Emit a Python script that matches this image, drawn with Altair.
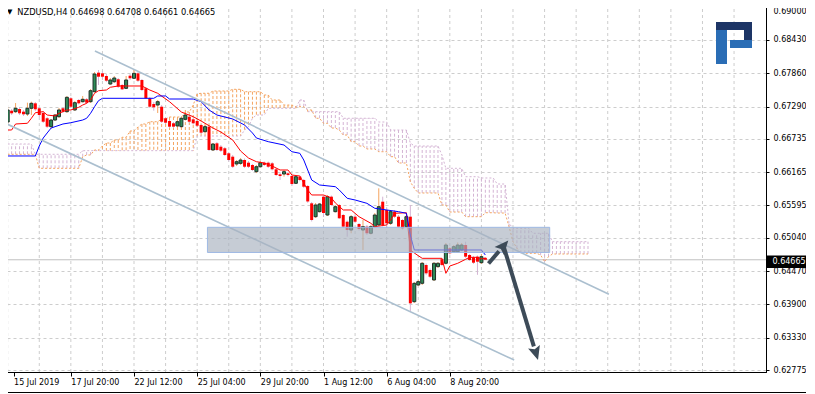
import math
import altair as alt
import pandas as pd

# ---------------- text ----------------
symbol_label = "NZDUSD,H4"
ohlc_label = ["0.64698", "0.64708", "0.64661", "0.64665"]
x_tick_labels = ["15 Jul 2019", "17 Jul 20:00", "22 Jul 12:00", "25 Jul 04:00",
                 "29 Jul 20:00", "1 Aug 12:00", "6 Aug 04:00", "8 Aug 20:00"]
x_tick_bars = [0, 16, 32, 48, 64, 80, 96, 112]
grid_bars = [0, 8, 16, 24, 32, 40, 48, 56, 64, 72, 80, 88, 96, 104, 112, 120,
             128, 136, 144, 152, 160, 168, 176, 184]
y_tick_prices = [0.69000, 0.68430, 0.67860, 0.67290, 0.66735, 0.66165,
                 0.65595, 0.65040, 0.64470, 0.63900, 0.63330, 0.62775]
last_price = 0.64665
last_price_label = "0.64665"

# ---------------- candles (H4 bars) ----------------
opens = [
 0.67025, 0.67219, 0.67202, 0.67248, 0.67202, 0.67162, 0.67260, 0.67345, 0.67260, 0.67179,
 0.67089, 0.66945, 0.67059, 0.67116, 0.67260, 0.67202, 0.67431, 0.67231, 0.67402, 0.67373,
 0.67414, 0.67373, 0.67544, 0.67870, 0.67859, 0.67813, 0.67676, 0.67715, 0.67757, 0.67659,
 0.67602, 0.67818, 0.67774, 0.67859, 0.67745, 0.67602, 0.67431, 0.67333, 0.67316, 0.67287,
 0.67089, 0.67042, 0.67003, 0.66957, 0.66945, 0.67071, 0.67116, 0.67071, 0.67042, 0.66974,
 0.66859, 0.66945, 0.66546, 0.66660, 0.66602, 0.66575, 0.66489, 0.66431, 0.66306, 0.66317,
 0.66374, 0.66328, 0.66289, 0.66174, 0.66259, 0.66328, 0.66328, 0.66317, 0.66215, 0.66129,
 0.66134, 0.66146, 0.66100, 0.65975, 0.66088, 0.66032, 0.65929, 0.65632, 0.65403, 0.65489,
 0.65746, 0.65432, 0.65746, 0.65489, 0.65603, 0.65432, 0.65317, 0.65175, 0.65403, 0.65278,
 0.65175, 0.65232, 0.65119, 0.65232, 0.65261, 0.65660, 0.65518, 0.65290, 0.65489, 0.65403,
 0.65346, 0.65232, 0.65403, 0.63947, 0.64233, 0.64262, 0.64576, 0.64490, 0.64319, 0.64547,
 0.64673, 0.64605, 0.64862, 0.64803, 0.64803, 0.64833, 0.64918, 0.64747, 0.64707, 0.64718,
 0.64615, 0.64698]
highs = [
 0.67282, 0.67248, 0.67350, 0.67282, 0.67231, 0.67356, 0.67373, 0.67368, 0.67282, 0.67214,
 0.67111, 0.67077, 0.67162, 0.67265, 0.67282, 0.67471, 0.67453, 0.67385, 0.67419, 0.67471,
 0.67436, 0.67590, 0.67882, 0.67916, 0.67899, 0.67847, 0.67779, 0.67813, 0.67779, 0.67676,
 0.67813, 0.67847, 0.67916, 0.67882, 0.67762, 0.67625, 0.67453, 0.67368, 0.67402, 0.67316,
 0.67111, 0.67059, 0.67025, 0.67059, 0.67111, 0.67231, 0.67145, 0.67094, 0.67059, 0.66991,
 0.66974, 0.66974, 0.66666, 0.66683, 0.66631, 0.66597, 0.66511, 0.66460, 0.66374, 0.66408,
 0.66400, 0.66357, 0.66306, 0.66289, 0.66357, 0.66348, 0.66348, 0.66340, 0.66237, 0.66152,
 0.66203, 0.66169, 0.66117, 0.66109, 0.66109, 0.66049, 0.65946, 0.65655, 0.65638, 0.65638,
 0.65775, 0.65775, 0.65766, 0.65603, 0.65620, 0.65449, 0.65338, 0.65432, 0.65423, 0.65295,
 0.65346, 0.65261, 0.65261, 0.65466, 0.65889, 0.65746, 0.65552, 0.65518, 0.65518, 0.65432,
 0.65364, 0.65432, 0.65603, 0.64284, 0.64319, 0.64627, 0.64601, 0.64516, 0.64627, 0.64627,
 0.64695, 0.64952, 0.64884, 0.64918, 0.64961, 0.64952, 0.64975, 0.64764, 0.64730, 0.64738,
 0.64764, 0.64708]
lows = [
 0.66990, 0.67145, 0.67179, 0.67145, 0.67128, 0.67128, 0.67145, 0.67214, 0.67111, 0.67008,
 0.66922, 0.66917, 0.67042, 0.67094, 0.67179, 0.67179, 0.67265, 0.67214, 0.67325, 0.67359,
 0.67333, 0.67351, 0.67530, 0.67659, 0.67745, 0.67710, 0.67659, 0.67693, 0.67608, 0.67573,
 0.67590, 0.67745, 0.67762, 0.67710, 0.67556, 0.67419, 0.67265, 0.67219, 0.67179, 0.67008,
 0.66991, 0.66922, 0.66922, 0.66931, 0.66931, 0.67051, 0.67008, 0.66982, 0.66940, 0.66820,
 0.66837, 0.66528, 0.66528, 0.66528, 0.66511, 0.66443, 0.66350, 0.66237, 0.66271, 0.66289,
 0.66237, 0.66237, 0.66186, 0.66150, 0.66246, 0.66271, 0.66237, 0.66194, 0.66100, 0.66032,
 0.66088, 0.66092, 0.65937, 0.65963, 0.66010, 0.65895, 0.65640, 0.65321, 0.65381, 0.65475,
 0.65398, 0.65415, 0.65586, 0.65475, 0.65364, 0.65209, 0.65061, 0.65119, 0.65295, 0.65167,
 0.64833, 0.65090, 0.65098, 0.65209, 0.65244, 0.65235, 0.65209, 0.65261, 0.65381, 0.65209,
 0.65184, 0.65209, 0.63776, 0.63925, 0.64216, 0.64233, 0.64407, 0.64353, 0.64302, 0.64525,
 0.64559, 0.64584, 0.64756, 0.64781, 0.64781, 0.64815, 0.64695, 0.64644, 0.64593, 0.64407,
 0.64593, 0.64661]
closes = [
 0.67231, 0.67174, 0.67260, 0.67174, 0.67157, 0.67260, 0.67345, 0.67243, 0.67145, 0.67030,
 0.66945, 0.67059, 0.67145, 0.67231, 0.67202, 0.67448, 0.67287, 0.67356, 0.67345, 0.67414,
 0.67356, 0.67561, 0.67847, 0.67801, 0.67801, 0.67733, 0.67745, 0.67779, 0.67630, 0.67585,
 0.67745, 0.67774, 0.67859, 0.67733, 0.67573, 0.67431, 0.67287, 0.67277, 0.67373, 0.67030,
 0.67013, 0.66945, 0.66945, 0.67030, 0.67089, 0.67145, 0.67030, 0.67003, 0.66962, 0.66842,
 0.66945, 0.66546, 0.66648, 0.66546, 0.66534, 0.66460, 0.66374, 0.66259, 0.66345, 0.66374,
 0.66259, 0.66259, 0.66203, 0.66259, 0.66328, 0.66289, 0.66259, 0.66215, 0.66117, 0.66100,
 0.66174, 0.66117, 0.65963, 0.66088, 0.66032, 0.65917, 0.65664, 0.65346, 0.65603, 0.65620,
 0.65466, 0.65746, 0.65603, 0.65574, 0.65376, 0.65232, 0.65175, 0.65403, 0.65317, 0.65192,
 0.65232, 0.65119, 0.65232, 0.65432, 0.65574, 0.65261, 0.65290, 0.65489, 0.65403, 0.65232,
 0.65204, 0.65403, 0.63919, 0.64262, 0.64290, 0.64605, 0.64433, 0.64375, 0.64605, 0.64605,
 0.64576, 0.64918, 0.64776, 0.64889, 0.64918, 0.64918, 0.64718, 0.64661, 0.64615, 0.64632,
 0.64718, 0.64665]

# ---------------- Ichimoku ----------------
tenkan_bars = [0, 1, 2, 5, 6, 7, 9, 10, 12, 13, 15, 16, 18, 19, 20, 21, 22, 23, 25, 26,
               28, 34, 36, 38, 41, 44, 47, 49, 52, 54, 57, 59, 61, 63, 65, 67, 69, 71, 72, 74,
               75, 76, 77, 80, 82, 83, 85, 87, 89, 92, 93, 96, 97, 98, 101, 102, 103, 105, 110, 111,
               112, 114, 116, 117, 119, 120, 121]
tenkan_vals = [0.66888, 0.66888, 0.66991, 0.67003, 0.67089, 0.67184, 0.67202, 0.67145, 0.67128, 0.67174,
               0.67231, 0.67231, 0.67277, 0.67316, 0.67345, 0.67402, 0.67517, 0.67561, 0.67573, 0.67620,
               0.67642, 0.67642, 0.67573, 0.67517, 0.67373, 0.67196, 0.67116, 0.67042, 0.66922, 0.66854,
               0.66717, 0.66528, 0.66408, 0.66345, 0.66323, 0.66271, 0.66203, 0.66203, 0.66117, 0.66100,
               0.65980, 0.65860, 0.65775, 0.65775, 0.65723, 0.65638, 0.65518, 0.65518, 0.65403, 0.65290,
               0.65232, 0.65261, 0.65346, 0.65461, 0.65471, 0.64833, 0.64781, 0.64690, 0.64690, 0.64433,
               0.64558, 0.64605, 0.64673, 0.64707, 0.64707, 0.64678, 0.64695]
kijun_bars = [0, 7, 8, 9, 10, 11, 12, 14, 16, 19, 20, 21, 22, 23, 24, 37, 38, 40, 41, 47,
              49, 51, 53, 57, 60, 62, 63, 66, 70, 72, 74, 75, 76, 77, 79, 83, 84, 86, 88, 91,
              93, 96, 99, 101, 102, 103, 120, 121]
kijun_vals = [0.66443, 0.66443, 0.66614, 0.66751, 0.66837, 0.66922, 0.66945, 0.66991, 0.67013, 0.67059,
              0.67089, 0.67174, 0.67287, 0.67390, 0.67431, 0.67431, 0.67471, 0.67471, 0.67419, 0.67419,
              0.67373, 0.67231, 0.67145, 0.67077, 0.66974, 0.66837, 0.66751, 0.66688, 0.66631, 0.66516,
              0.66489, 0.66374, 0.66203, 0.66032, 0.65946, 0.65917, 0.65860, 0.65718, 0.65689, 0.65632,
              0.65547, 0.65518, 0.65489, 0.65461, 0.65089, 0.64833, 0.64833, 0.64747]
span_a = [
 0.66472, 0.66472, 0.66472, 0.66472, 0.66472, 0.66472, 0.66472, 0.66472, 0.66232, 0.66232,
 0.66232, 0.66232, 0.66232, 0.66232, 0.66232, 0.66232, 0.66232, 0.66232, 0.66232, 0.66431,
 0.66460, 0.66460, 0.66546, 0.66546, 0.66614, 0.66665, 0.66665, 0.66717, 0.66717, 0.66763,
 0.66763, 0.66871, 0.66871, 0.66940, 0.66991, 0.66991, 0.67030, 0.67030, 0.67030, 0.67077,
 0.67077, 0.67111, 0.67111, 0.67111, 0.67111, 0.67196, 0.67196, 0.67316, 0.67505, 0.67517,
 0.67517, 0.67517, 0.67556, 0.67556, 0.67556, 0.67556, 0.67556, 0.67585, 0.67585, 0.67585,
 0.67544, 0.67544, 0.67544, 0.67544, 0.67544, 0.67488, 0.67488, 0.67402, 0.67402, 0.67402,
 0.67316, 0.67316, 0.67316, 0.67287, 0.67287, 0.67287, 0.67231, 0.67231, 0.67089, 0.67089,
 0.67003, 0.67003, 0.66922, 0.66922, 0.66888, 0.66802, 0.66802, 0.66688, 0.66688, 0.66614,
 0.66614, 0.66563, 0.66563, 0.66563, 0.66516, 0.66516, 0.66516, 0.66431, 0.66431, 0.66323,
 0.66323, 0.66323, 0.66000, 0.65889, 0.65809, 0.65809, 0.65809, 0.65809, 0.65809, 0.65809,
 0.65603, 0.65603, 0.65483, 0.65483, 0.65483, 0.65483, 0.65403, 0.65403, 0.65403, 0.65403,
 0.65403, 0.65471, 0.65471, 0.65471, 0.65466, 0.65466, 0.65466, 0.65232, 0.64975, 0.64862,
 0.64776, 0.64776, 0.64776, 0.64776, 0.64776, 0.64747, 0.64632, 0.64718, 0.64764, 0.64764,
 0.64764, 0.64764, 0.64764, 0.64764, 0.64764, 0.64764, 0.64764, 0.64764]
span_b = [
 0.66648, 0.66648, 0.66648, 0.66648, 0.66648, 0.66648, 0.66648, 0.66472, 0.66472, 0.66472,
 0.66472, 0.66472, 0.66472, 0.66472, 0.66472, 0.66472, 0.66472, 0.66472, 0.66472, 0.66534,
 0.66534, 0.66534, 0.66534, 0.66534, 0.66534, 0.66534, 0.66534, 0.66534, 0.66534, 0.66534,
 0.66534, 0.66534, 0.66534, 0.66534, 0.66534, 0.66534, 0.66534, 0.66534, 0.66534, 0.66534,
 0.66534, 0.66534, 0.66534, 0.66534, 0.66534, 0.66534, 0.66534, 0.66534, 0.66785, 0.66785,
 0.66785, 0.66785, 0.66785, 0.66785, 0.66785, 0.66785, 0.66785, 0.66785, 0.66785, 0.66785,
 0.66888, 0.66945, 0.67089, 0.67145, 0.67145, 0.67145, 0.67260, 0.67260, 0.67260, 0.67260,
 0.67260, 0.67260, 0.67260, 0.67260, 0.67402, 0.67402, 0.67202, 0.67202, 0.67202, 0.67202,
 0.67202, 0.67202, 0.67202, 0.67202, 0.67202, 0.67089, 0.67089, 0.67089, 0.67089, 0.67089,
 0.67089, 0.67089, 0.67089, 0.67089, 0.67025, 0.67025, 0.67025, 0.66888, 0.66888, 0.66888,
 0.66888, 0.66888, 0.66665, 0.66614, 0.66614, 0.66614, 0.66614, 0.66614, 0.66614, 0.66614,
 0.66460, 0.66232, 0.66232, 0.66232, 0.66232, 0.66232, 0.66088, 0.66088, 0.66088, 0.66088,
 0.66066, 0.66066, 0.66066, 0.66066, 0.65963, 0.65963, 0.65963, 0.65290, 0.65204, 0.65204,
 0.65204, 0.65204, 0.65204, 0.65119, 0.65119, 0.65119, 0.65119, 0.65119, 0.64975, 0.64975,
 0.64975, 0.64975, 0.64975, 0.64975, 0.64975, 0.64975, 0.64975, 0.64975]

# ---------------- drawn objects (bar index, price) ----------------
channel_upper_bars = [22.1, 152.3]
channel_upper_prices = [0.68241, 0.64075]
channel_lower_bars = [-0.2, 128.3]
channel_lower_prices = [0.66991, 0.62948]
zone_bars = [50.6, 137.3]
zone_prices = [0.64790, 0.65221]
arrow_start_bars = [121.8, 125.6]
arrow_start_prices = [0.64601, 0.64901]
arrow_tip_bars = [125.6, 133.8]
arrow_tip_prices = [0.64901, 0.63068]

# ---------------- styling ----------------
W, H = 764, 369
X_DOM = [-0.175, 190.825]
Y_DOM = [0.627426, 0.690636]
FONT = "DejaVu Sans"
GRID = "#cdcdcd"
SANDY = "#f4a460"
THISTLE = "#d4b4d4"
BULL_FILL = "#2e8b57"
BULL_LINE = "#1f2f28"
BEAR = "#ff0000"
CHANNEL = "#abbfcf"
ARROW = "#3d4b58"
ARROW_PATH = "M0,-1L0.85,0.9L0,0.55L-0.85,0.9Z"

xs = alt.Scale(domain=X_DOM, nice=False, zero=False)
ys = alt.Scale(domain=Y_DOM, nice=False, zero=False)

step = x_tick_bars[1] - x_tick_bars[0]
label_js = "[" + ",".join("'%s'" % s for s in x_tick_labels) + "]"
x_axis = alt.Axis(values=[1.5] + x_tick_bars[1:],
                  labelExpr=label_js + "[round(datum.value / %d)]" % step,
                  labelAlign="left", labelBaseline="top", labelPadding=2,
                  tickSize=4, tickColor="black", domainColor="black",
                  grid=False, labelFont=FONT, labelFontSize=8, labelColor="black",
                  labelOverlap=False, labelFlush=False, title=None)
top_price = max(y_tick_prices)
y_axis = alt.Axis(orient="right", values=y_tick_prices, format=".5f",
                  tickSize=3, labelPadding=4, tickColor="black", domainColor="black",
                  grid=True, gridDash=[3, 3], gridColor=GRID,
                  labelFont=FONT, labelFontSize=8, labelColor="black",
                  labelOffset={"condition": {"test": "datum.value >= %.5f" % (top_price - 0.0001),
                                             "value": 4.5}, "value": 0},
                  labelOverlap=False, labelFlush=False, title=None)


def bx(field="bar"):
    return alt.X(field, type="quantitative", scale=xs, axis=x_axis)


def py(field):
    return alt.Y(field, type="quantitative", scale=ys, axis=y_axis)


n = len(closes)
candles = pd.DataFrame({"bar": list(range(n)), "o": opens, "h": highs, "l": lows, "c": closes})
candles["dir"] = ["bull" if c >= o else "bear" for o, c in zip(opens, closes)]
cloud = pd.DataFrame({"bar": list(range(len(span_a))), "a": span_a, "b": span_b})
cloud["kind"] = ["up" if a >= b else "down" for a, b in zip(span_a, span_b)]

grid_layer = alt.Chart(pd.DataFrame({"bar": grid_bars})).mark_rule(
    color=GRID, strokeDash=[3, 3], strokeWidth=1).encode(x=bx())

price_line = alt.Chart(pd.DataFrame({"p": [last_price]})).mark_rule(
    color="#c0c0c0", strokeWidth=1).encode(y=py("p"))

hatch = alt.Chart(cloud).mark_rule(strokeDash=[3, 2], strokeWidth=1).encode(
    x=bx(), y=py("a"), y2="b",
    color=alt.Color("kind:N", scale=alt.Scale(domain=["up", "down"], range=[SANDY, THISTLE]), legend=None))
line_a = alt.Chart(cloud).mark_line(color=SANDY, strokeWidth=1, strokeDash=[2, 2]).encode(x=bx(), y=py("a"))
line_b = alt.Chart(cloud).mark_line(color=THISTLE, strokeWidth=1, strokeDash=[2, 2]).encode(x=bx(), y=py("b"))

wicks = alt.Chart(candles).mark_rule(strokeWidth=1).encode(
    x=bx(), y=py("l"), y2="h",
    color=alt.Color("dir:N", scale=alt.Scale(domain=["bull", "bear"], range=[BULL_LINE, BEAR]), legend=None))
bear_bodies = alt.Chart(candles).transform_filter("datum.dir == 'bear'").mark_bar(
    size=3, color=BEAR).encode(x=bx(), y=py("o"), y2="c")
bull_bodies = alt.Chart(candles).transform_filter("datum.dir == 'bull'").mark_bar(
    size=3, fill=BULL_FILL, stroke=BULL_LINE, strokeWidth=1).encode(x=bx(), y=py("o"), y2="c")

tenkan = alt.Chart(pd.DataFrame({"bar": tenkan_bars, "v": tenkan_vals})).mark_line(
    color="#ff0000", strokeWidth=1).encode(x=bx(), y=py("v"))
kijun = alt.Chart(pd.DataFrame({"bar": kijun_bars, "v": kijun_vals})).mark_line(
    color="#0000ff", strokeWidth=1).encode(x=bx(), y=py("v"))

chan_df = pd.DataFrame({
    "bar": channel_upper_bars + channel_lower_bars,
    "p": channel_upper_prices + channel_lower_prices,
    "k": ["upper"] * 2 + ["lower"] * 2})
channels = alt.Chart(chan_df).mark_line(color=CHANNEL, strokeWidth=1.6).encode(
    x=bx(), y=py("p"), detail="k:N")

zone = alt.Chart(pd.DataFrame({"b1": [zone_bars[0]], "b2": [zone_bars[1]],
                               "p1": [zone_prices[0]], "p2": [zone_prices[1]]})).mark_rect(
    fill="#a8b2bf", fillOpacity=0.66, stroke="#9fb9e4", strokeWidth=1).encode(
    x=bx("b1"), x2="b2", y=py("p1"), y2="p2")

# arrows
ppb = W / (X_DOM[1] - X_DOM[0])
ppp = H / (Y_DOM[1] - Y_DOM[0])
seg_rows, head_rows = [], []
for sb, sp, tb, tp in zip(arrow_start_bars, arrow_start_prices, arrow_tip_bars, arrow_tip_prices):
    dx = (tb - sb) * ppb
    dy = -(tp - sp) * ppp
    L = math.hypot(dx, dy)
    ux, uy = dx / L, dy / L
    ang = math.degrees(math.atan2(dx, -dy)) % 360
    back = 7.0
    seg_rows.append({"b": sb, "p": sp, "b2": tb - ux * back / ppb, "p2": tp + uy * back / ppp})
    head_rows.append({"b": tb, "p": tp, "ang": ang})
arrow_lines = alt.Chart(pd.DataFrame(seg_rows)).mark_rule(
    color=ARROW, strokeWidth=4, strokeCap="butt").encode(x=bx("b"), x2="b2", y=py("p"), y2="p2")
arrow_heads = alt.Chart(pd.DataFrame(head_rows)).mark_point(
    shape=ARROW_PATH, filled=True, size=210, color=ARROW, opacity=1, strokeWidth=0).encode(
    x=bx("b"), y=py("p"), angle=alt.Angle("ang:Q", scale=None))

# texts and decorations
one = pd.DataFrame({"t": [symbol_label + " " + " ".join(ohlc_label)]})
title_txt = alt.Chart(one).mark_text(align="left", baseline="alphabetic", font=FONT,
                                     fontSize=8.3, color="black").encode(
    text="t:N", x=alt.value(15.3), y=alt.value(12))
tri = alt.Chart(pd.DataFrame({"t": ["\u25bc"]})).mark_text(
    align="left", baseline="alphabetic", font=FONT, fontSize=7, color="black").encode(
    text="t:N", x=alt.value(5), y=alt.value(10.5))

box = alt.Chart(pd.DataFrame({"t": [last_price_label]})).mark_rect(color="black").encode(
    x=alt.value(765), x2=alt.value(805), y=alt.value(252.5), y2=alt.value(265))
box_txt = alt.Chart(pd.DataFrame({"t": [last_price_label]})).mark_text(
    align="left", baseline="middle", font=FONT, fontSize=8, color="white").encode(
    text="t:N", x=alt.value(770.5), y=alt.value(259))


def logo_rect(x1, x2, y1, y2, col):
    return alt.Chart(pd.DataFrame({"t": [0]})).mark_rect(color=col).encode(
        x=alt.value(x1), x2=alt.value(x2), y=alt.value(y1), y2=alt.value(y2))


logo = [
    logo_rect(714, 725, 24, 61, "#2a6db5"),
    logo_rect(714, 750, 19, 27, "#1d3566"),
    logo_rect(742, 750, 19, 45, "#1d3566"),
    logo_rect(728, 750, 37, 45, "#2a6db5"),
]

frame_b = alt.Chart(pd.DataFrame({"t": [0]})).mark_rule(color="black", strokeWidth=1).encode(
    y=alt.value(389.5), x=alt.value(-6), x2=alt.value(805))

chart = alt.layer(
    grid_layer, price_line, hatch, line_a, line_b,
    wicks, bear_bodies, bull_bodies, tenkan, kijun, channels,
    zone, arrow_lines, arrow_heads,
    title_txt, tri, box, box_txt, *logo, frame_b
).properties(
    width=W, height=H,
    padding={"left": -6, "top": -5, "right": 40, "bottom": 21},
    autosize=alt.AutoSizeParams(type="none"),
).configure_view(stroke="black", strokeWidth=1)

chart.save("out.html", embed_options={"renderer": "svg", "actions": False})
